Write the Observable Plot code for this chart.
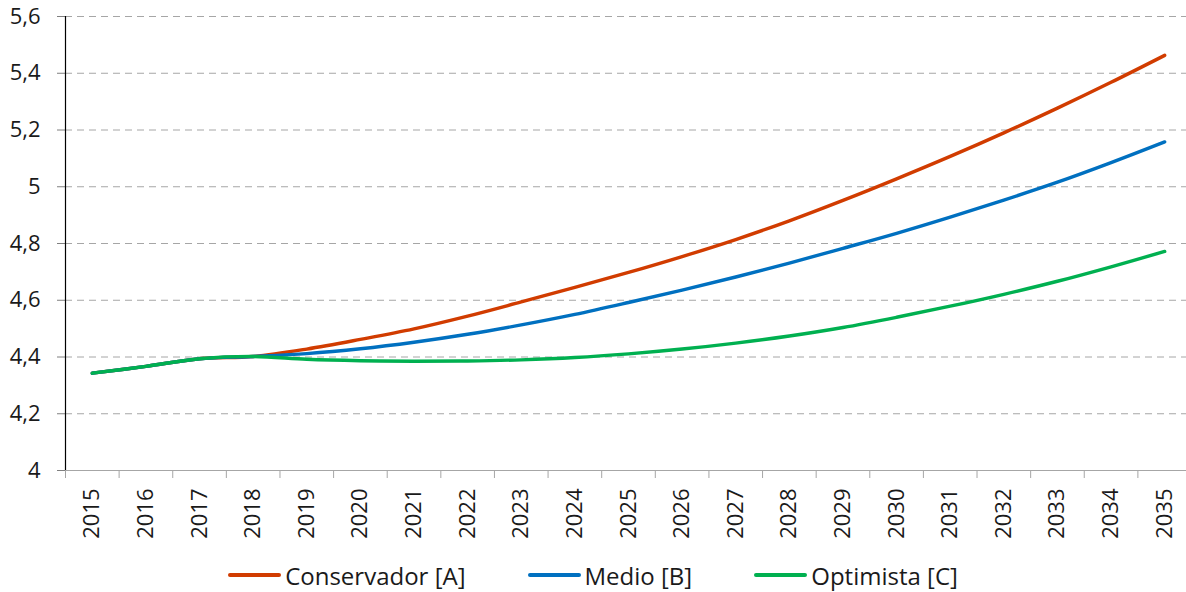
<!DOCTYPE html>
<html>
<head>
<meta charset="utf-8">
<script src="https://cdn.jsdelivr.net/npm/d3@7"></script>
<script src="https://cdn.jsdelivr.net/npm/@observablehq/plot@0.6"></script>
<style>
  html, body { margin: 0; padding: 0; background: #fff; }
  body { width: 1186px; height: 592px; overflow: hidden; font-family: "Open Sans", "Noto Sans", sans-serif; }
  #legend { display: flex; justify-content: center; align-items: center; gap: 62px; height: 34px; font-size: 24px; color: #1a1a1a; }
  #legend .item { display: flex; align-items: center; }
  #legend .sw { width: 53px; height: 4px; border-radius: 2px; margin-right: 4px; }
</style>
</head>
<body>
<div id="chart"></div>
<div id="legend"></div>
<script>
const years = [2015,2016,2017,2018,2019,2020,2021,2022,2023,2024,2025,2026,2027,2028,2029,2030,2031,2032,2033,2034,2035];
const conservador = [4.343,4.367,4.394,4.402,4.428,4.462,4.499,4.544,4.594,4.645,4.698,4.754,4.814,4.880,4.952,5.028,5.107,5.190,5.277,5.368,5.463];
const medio =       [4.343,4.367,4.394,4.402,4.412,4.429,4.452,4.480,4.513,4.550,4.592,4.636,4.682,4.731,4.783,4.836,4.893,4.953,5.016,5.085,5.158];
const optimista =   [4.343,4.367,4.394,4.402,4.392,4.387,4.385,4.386,4.390,4.398,4.411,4.428,4.449,4.474,4.504,4.540,4.579,4.621,4.667,4.718,4.772];
const seriesNames = ["Conservador [A]", "Medio [B]", "Optimista [C]"];
const seriesColors = ["#D13C00", "#0070C0", "#00B050"];
const yTicks = [4, 4.2, 4.4, 4.6, 4.8, 5, 5.2, 5.4, 5.6];
const yTickLabels = ["4", "4,2", "4,4", "4,6", "4,8", "5", "5,2", "5,4", "5,6"];

const seriesValues = [conservador, medio, optimista];
const data = [];
seriesNames.forEach((name, i) => {
  years.forEach((yr, j) => data.push({year: yr, value: seriesValues[i][j], serie: name}));
});
const boundaries = [years[0] - 0.5, ...years.map(y => y + 0.5)];

const chart = Plot.plot({
  width: 1186,
  height: 558,
  marginLeft: 65,
  marginRight: 0,
  marginTop: 16,
  marginBottom: 88,
  style: {fontFamily: "'Open Sans', 'Noto Sans', sans-serif", color: "#1a1a1a", background: "#fff", overflow: "hidden"},
  x: {type: "linear", domain: [years[0] - 0.5, years[years.length - 1] + 0.5], range: [65, 1191]},
  y: {domain: [4, 5.6], range: [470, 16]},
  color: {domain: seriesNames, range: seriesColors},
  marks: [
    Plot.gridY(yTicks.slice(1), {stroke: "#a6a6a6", strokeOpacity: 1, strokeDasharray: "7,5", strokeWidth: 1}),
    Plot.axisY({ticks: yTicks, tickFormat: d => yTickLabels[yTicks.indexOf(d)] ?? "", tickSize: 8, tickPadding: 17, fontSize: 22, stroke: "#7f7f7f", label: null}),
    Plot.axisX({ticks: boundaries, tickFormat: () => "", tickSize: 8, stroke: "#a6a6a6", label: null}),
    Plot.axisX({ticks: years, tickFormat: d => String(d), tickSize: 0, tickPadding: 18, tickRotate: -90, fontSize: 22, label: null}),
    Plot.ruleY([4], {stroke: "#a6a6a6", strokeWidth: 1}),
    Plot.ruleX([years[0] - 0.5], {y1: 4, y2: 5.6, stroke: "#000", strokeWidth: 1.2}),
    Plot.line(data, {x: "year", y: "value", z: "serie", stroke: "serie", strokeWidth: 3.4, curve: "catmull-rom", strokeLinecap: "round"})
  ]
});
document.getElementById("chart").appendChild(chart);

const legend = document.getElementById("legend");
seriesNames.forEach((name, i) => {
  const item = document.createElement("div");
  item.className = "item";
  const sw = document.createElement("span");
  sw.className = "sw";
  sw.style.background = seriesColors[i];
  const t = document.createElement("span");
  t.textContent = name;
  item.appendChild(sw);
  item.appendChild(t);
  legend.appendChild(item);
});
</script>
</body>
</html>
